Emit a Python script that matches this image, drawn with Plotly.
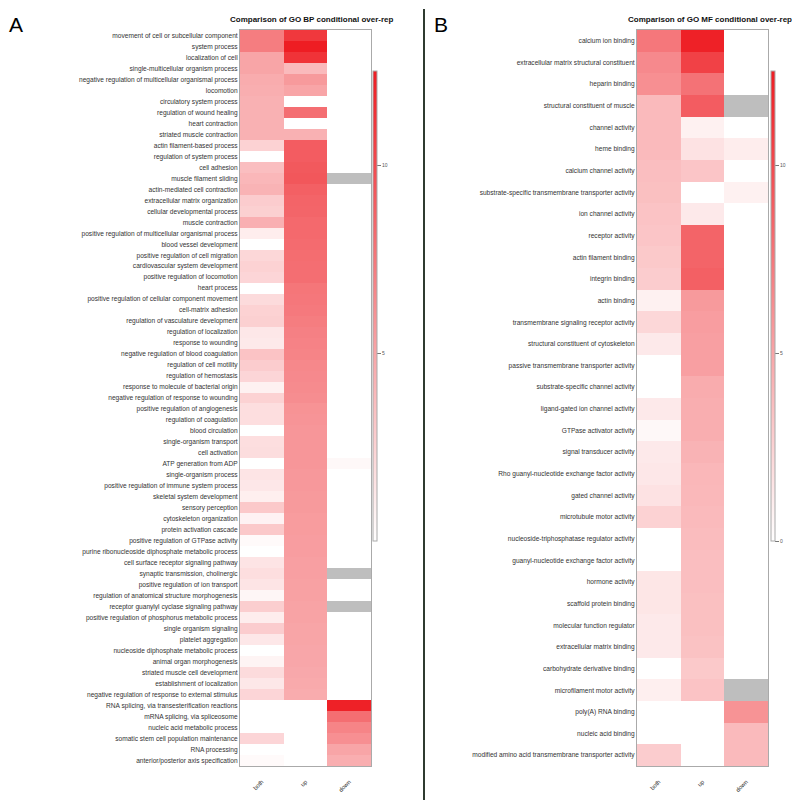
import plotly.graph_objects as go

# ---------------- data ----------------
columns = ["both", "up", "down"]

bp_terms = [
    "movement of cell or subcellular component", "system process", "localization of cell",
    "single-multicellular organism process", "negative regulation of multicellular organismal process",
    "locomotion", "circulatory system process", "regulation of wound healing", "heart contraction",
    "striated muscle contraction", "actin filament-based process", "regulation of system process",
    "cell adhesion", "muscle filament sliding", "actin-mediated cell contraction",
    "extracellular matrix organization", "cellular developmental process", "muscle contraction",
    "positive regulation of multicellular organismal process", "blood vessel development",
    "positive regulation of cell migration", "cardiovascular system development",
    "positive regulation of locomotion", "heart process",
    "positive regulation of cellular component movement", "cell-matrix adhesion",
    "regulation of vasculature development", "regulation of localization", "response to wounding",
    "negative regulation of blood coagulation", "regulation of cell motility",
    "regulation of hemostasis", "response to molecule of bacterial origin",
    "negative regulation of response to wounding", "positive regulation of angiogenesis",
    "regulation of coagulation", "blood circulation", "single-organism transport", "cell activation",
    "ATP generation from ADP", "single-organism process",
    "positive regulation of immune system process", "skeletal system development",
    "sensory perception", "cytoskeleton organization", "protein activation cascade",
    "positive regulation of GTPase activity", "purine ribonucleoside diphosphate metabolic process",
    "cell surface receptor signaling pathway", "synaptic transmission, cholinergic",
    "positive regulation of ion transport", "regulation of anatomical structure morphogenesis",
    "receptor guanylyl cyclase signaling pathway",
    "positive regulation of phosphorus metabolic process", "single organism signaling",
    "platelet aggregation", "nucleoside diphosphate metabolic process",
    "animal organ morphogenesis", "striated muscle cell development",
    "establishment of localization", "negative regulation of response to external stimulus",
    "RNA splicing, via transesterification reactions", "mRNA splicing, via spliceosome",
    "nucleic acid metabolic process", "somatic stem cell population maintenance",
    "RNA processing", "anterior/posterior axis specification",
]
bp_both = [7.2, 7.2, 5.0, 5.0, 4.6, 4.5, 4.3, 4.3, 4.3, 4.3, 2.5, None, 3.6, 4.0, 4.2, 2.8, 2.6, 4.4,
           1.0, None, 2.2, 2.5, 2.3, None, 2.0, 2.5, 2.6, 1.3, 1.2, 3.3, 2.8, 2.3, 0.8, 2.5,
           1.8, 1.8, None, 1.8, 1.9, None, 1.5, 1.3, 0.9, 3.0, 0.7, 3.0, 0.3, None, 1.5, 1.8,
           1.5, 0.5, 2.7, 1.0, 2.8, 1.3, None, 0.6, 2.0, 1.3, 2.3,
           None, None, None, 2.3, None, 0.3]
bp_up = [11.0, 12.5, 11.3, 3.8, 5.6, 5.0, None, 8.0, None, 4.3, 9.0, 9.0, 9.2, 9.3, 8.8, 8.6, 8.5, 8.3,
         8.3, 8.2, 8.1, 8.0, 8.0, 7.6, 7.5, 7.4, 7.2, 7.0, 6.9, 6.8, 6.6, 6.5, 6.4, 6.3,
         6.0, 5.9, 5.8, 5.8, 5.8, 5.8, 5.7, 5.7, 5.6, 5.6, 5.5, 5.5, 5.4, 5.4, 5.3, 5.3,
         5.2, 5.2, 5.1, 5.1, 5.0, 5.0, 4.9, 4.9, 4.8, 4.7, 4.6,
         None, None, None, None, None, None]
bp_down = [None] * 39 + [0.4] + [None] * 21 + [12.3, 8.0, 6.8, 6.2, 5.0, 4.5]
bp_gray_down = ["muscle filament sliding", "synaptic transmission, cholinergic",
                "receptor guanylyl cyclase signaling pathway"]

mf_terms = [
    "calcium ion binding", "extracellular matrix structural constituent", "heparin binding",
    "structural constituent of muscle", "channel activity", "heme binding",
    "calcium channel activity", "substrate-specific transmembrane transporter activity",
    "ion channel activity", "receptor activity", "actin filament binding", "integrin binding",
    "actin binding", "transmembrane signaling receptor activity",
    "structural constituent of cytoskeleton", "passive transmembrane transporter activity",
    "substrate-specific channel activity", "ligand-gated ion channel activity",
    "GTPase activator activity", "signal transducer activity",
    "Rho guanyl-nucleotide exchange factor activity", "gated channel activity",
    "microtubule motor activity", "nucleoside-triphosphatase regulator activity",
    "guanyl-nucleotide exchange factor activity", "hormone activity", "scaffold protein binding",
    "molecular function regulator", "extracellular matrix binding",
    "carbohydrate derivative binding", "microfilament motor activity", "poly(A) RNA binding",
    "nucleic acid binding", "modified amino acid transmembrane transporter activity",
]
mf_both = [7.5, 6.5, 6.2, 3.8, 3.8, 3.8, 3.6, 3.5, 3.3, 3.2, 3.0, 2.8, 0.8, 2.2, 1.2, None, None,
           1.2, 0.4, 1.2, 1.3, 1.6, 2.5, None, None, 1.4, 1.4, 1.2, 1.2, None, 0.9, None, None, 2.8]
mf_up = [12.3, 10.5, 7.8, 9.0, 0.8, 1.6, 3.2, None, 1.2, 8.6, 8.6, 8.8, 5.6, 5.4, 5.3, 5.3, 4.6,
         4.5, 4.5, 4.2, 4.0, 3.9, 3.8, 3.7, 3.6, 3.6, 3.5, 3.5, 3.4, 3.0, 3.3, None, None, None]
mf_down = [None, None, None, None, None, 1.0, None, 0.8] + [None] * 23 + [6.0, 3.8, 3.8]
mf_gray_down = ["structural constituent of muscle", "microfilament motor activity"]

panel_titles = ["Comparison of GO BP conditional over-rep", "Comparison of GO MF conditional over-rep"]
panel_letters = ["A", "B"]
bp_cbar_ticks = [5, 10]
mf_cbar_ticks = [0, 5, 10]

# ---------------- layout helpers ----------------
# the page body has an 8 px margin, so the figure is drawn 8 px in from the
# window's top-left corner; all positions below are window pixels.
OFF = 8
FW, FH = 800 - OFF, 808 - OFF
ZMAX = 12.5
FONT = "Liberation Sans, Arial, sans-serif"


def px(x):
    return (x - OFF) / FW


def py(y):
    return 1 - (y - OFF) / FH


fig = go.Figure()


def add_panel(terms, both, up, down, gray, xa, ya, cb_x, cb_ticks):
    z = [[b, u, d] for b, u, d in zip(both, up, down)]
    fig.add_trace(go.Heatmap(
        x=columns, y=terms, z=z, xaxis=xa, yaxis=ya, zmin=0, zmax=ZMAX,
        colorscale=[[0, "#ffffff"], [1, "#ee1d23"]], hoverongaps=False,
        colorbar=dict(
            thickness=4, thicknessmode="pixels", len=470, lenmode="pixels",
            x=px(cb_x), xanchor="left", y=py(306), yanchor="middle",
            xpad=0, ypad=0, outlinewidth=1, outlinecolor="#aaaaaa",
            tickvals=cb_ticks, ticks="outside", ticklen=4, tickwidth=0.6,
            tickcolor="#777777", tickfont=dict(size=5, color="#555555", family=FONT),
        ),
    ))
    zg = [[None, None, 1 if t in gray else None] for t in terms]
    fig.add_trace(go.Heatmap(
        x=columns, y=terms, z=zg, xaxis=xa, yaxis=ya, showscale=False,
        colorscale=[[0, "#bebebe"], [1, "#bebebe"]], hoverongaps=False,
    ))


add_panel(bp_terms, bp_both, bp_up, bp_down, bp_gray_down, "x", "y", 373, bp_cbar_ticks)
add_panel(mf_terms, mf_both, mf_up, mf_down, mf_gray_down, "x2", "y2", 771, mf_cbar_ticks)

axis_common = dict(showline=True, mirror=True, linecolor="#aaaaaa", linewidth=1,
                   showgrid=False, zeroline=False, automargin=False, fixedrange=True)

xcommon = dict(axis_common, type="category", categoryorder="array", categoryarray=columns,
               tickangle=-45, ticks="outside", ticklen=9, tickcolor="rgba(0,0,0,0)",
               tickfont=dict(size=6, color="#333333", family=FONT))

fig.update_layout(
    width=FW, height=FH, autosize=False,
    margin=dict(l=0, r=0, t=0, b=0),
    paper_bgcolor="white", plot_bgcolor="white",
    font=dict(family=FONT),
    showlegend=False,
    xaxis=dict(xcommon, domain=[px(240), px(371)], anchor="y"),
    xaxis2=dict(xcommon, domain=[px(637), px(768)], anchor="y2"),
    yaxis=dict(axis_common, domain=[py(766), py(30)], anchor="x", type="category",
               categoryorder="array", categoryarray=bp_terms, autorange="reversed",
               ticks="", tickfont=dict(size=6.6, color="#333333", family=FONT)),
    yaxis2=dict(axis_common, domain=[py(766), py(30)], anchor="x2", type="category",
                categoryorder="array", categoryarray=mf_terms, autorange="reversed",
                ticks="", tickfont=dict(size=6.6, color="#333333", family=FONT)),
)

# titles
for title, cx in zip(panel_titles, [312, 710]):
    fig.add_annotation(text="<b>" + title + "</b>", x=px(cx), y=py(19), xref="paper", yref="paper",
                       showarrow=False, xanchor="center", yanchor="middle",
                       font=dict(size=8, color="#111111", family=FONT))

# panel letters
for letter, lx in zip(panel_letters, [7, 432]):
    fig.add_annotation(text=letter, x=px(lx), y=py(25), xref="paper", yref="paper",
                       showarrow=False, xanchor="left", yanchor="middle",
                       font=dict(size=21, color="#000000", family=FONT))

# divider line
fig.add_shape(type="line", xref="paper", yref="paper", x0=px(424), x1=px(424),
              y0=py(9), y1=py(800), line=dict(color="#2f3b30", width=2))

fig.write_html("out.html")
